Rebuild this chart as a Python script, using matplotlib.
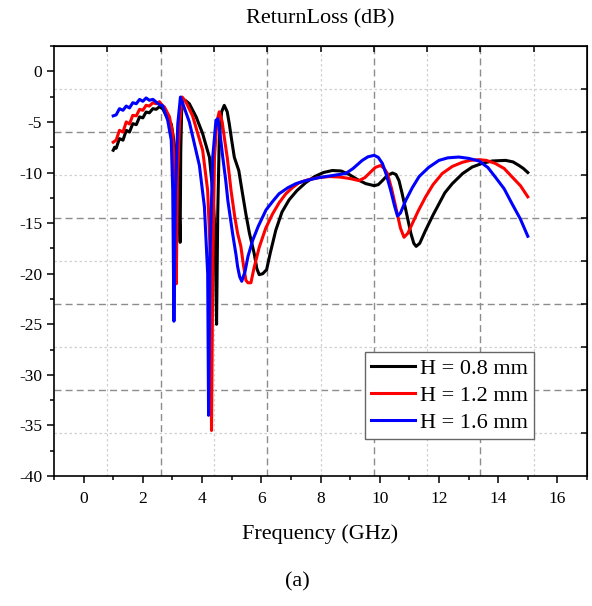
"""Return loss of the antenna for three substrate heights."""

import numpy as np
import matplotlib
matplotlib.use("Agg")
import matplotlib.pyplot as plt
from matplotlib.ticker import MultipleLocator

plt.rcParams["font.family"] = ["Liberation Serif", "DejaVu Serif"]
plt.rcParams["axes.unicode_minus"] = False

# H = 0.8 mm
f_08 = [1.0, 1.05, 1.1, 1.21, 1.33, 1.44, 1.55, 1.66, 1.78, 1.89, 2.0, 2.11, 2.22, 2.34,
        2.45, 2.56, 2.67, 2.79, 2.9, 2.96, 3.03, 3.12, 3.21, 3.26, 3.28, 3.31, 3.36, 3.45,
        3.57, 3.8, 4.02, 4.25, 4.36, 4.44, 4.49, 4.53, 4.58, 4.66, 4.75, 4.85, 4.92, 5.0,
        5.09, 5.24, 5.35, 5.48, 5.6, 5.76, 5.85, 5.93, 6.05, 6.18, 6.3, 6.49, 6.7, 6.94,
        7.2, 7.5, 7.8, 8.1, 8.4, 8.7, 8.97, 9.25, 9.53, 9.81, 9.95, 10.09, 10.25, 10.43,
        10.55, 10.65, 10.75, 10.88, 11.05, 11.15, 11.23, 11.35, 11.55, 11.8, 12.0, 12.2,
        12.45, 12.8, 13.12, 13.45, 13.8, 14.25, 14.5, 14.7, 14.85, 15.0]
s_08 = [-7.8, -7.5, -7.6, -6.65, -6.8, -5.83, -6.0, -5.17, -5.27, -4.5, -4.6, -4.02, -4.1,
        -3.69, -3.75, -3.5, -3.69, -4.4, -5.0, -5.2, -6.5, -8.5, -11.8, -16.9, -8.0, -4.0,
        -2.8, -2.9, -3.2, -4.5, -6.16, -8.5, -11.8, -16.0, -25.0, -14.0, -6.8, -4.0, -3.36,
        -4.0, -5.2, -6.8, -8.5, -9.8, -11.8, -14.1, -16.0, -18.0, -19.5, -20.1, -20.0,
        -19.6, -18.0, -15.7, -13.9, -12.7, -11.8, -11.0, -10.4, -10.0, -9.8, -9.85, -10.2,
        -10.7, -11.1, -11.3, -11.2, -10.8, -10.3, -10.05, -10.2, -10.8, -12.0, -13.7, -16.0,
        -17.0, -17.3, -17.0, -15.7, -14.2, -13.1, -12.0, -11.1, -10.1, -9.46, -9.1, -8.86,
        -8.8, -8.95, -9.3, -9.6, -10.0]

# H = 1.2 mm
f_12 = [1.0, 1.1, 1.21, 1.33, 1.44, 1.55, 1.66, 1.78, 1.89, 2.0, 2.11, 2.22, 2.34, 2.45,
        2.56, 2.67, 2.73, 2.9, 3.01, 3.1, 3.13, 3.17, 3.24, 3.33, 3.45, 3.68, 4.02, 4.19,
        4.28, 4.32, 4.36, 4.42, 4.5, 4.58, 4.68, 4.75, 4.85, 4.98, 5.1, 5.2, 5.31, 5.4,
        5.48, 5.55, 5.65, 5.75, 5.93, 6.15, 6.38, 6.6, 6.83, 7.05, 7.28, 7.6, 7.95, 8.3,
        8.63, 9.0, 9.3, 9.5, 9.64, 9.85, 10.03, 10.15, 10.26, 10.4, 10.54, 10.7, 10.82,
        10.95, 11.1, 11.3, 11.55, 11.8, 12.11, 12.45, 12.78, 13.05, 13.35, 13.6, 13.9,
        14.2, 14.47, 14.75, 15.0]
s_12 = [-7.0, -6.8, -5.83, -6.0, -5.0, -5.2, -4.35, -4.4, -3.75, -3.85, -3.36, -3.43, -3.1,
        -3.2, -3.0, -3.4, -3.52, -4.5, -6.16, -11.8, -21.0, -10.0, -5.2, -2.54, -3.0, -4.4,
        -7.8, -11.8, -18.3, -35.5, -20.0, -8.5, -5.0, -4.0, -5.0, -6.5, -8.5, -11.8, -14.3,
        -16.0, -17.3, -19.2, -20.65, -20.9, -20.9, -19.5, -17.4, -15.5, -14.1, -13.0, -12.1,
        -11.5, -11.0, -10.7, -10.5, -10.4, -10.44, -10.6, -10.8, -10.5, -10.1, -9.5, -9.3,
        -9.6, -10.1, -11.6, -13.4, -15.5, -16.4, -16.0, -15.05, -13.8, -12.4, -11.2, -10.1,
        -9.4, -9.0, -8.8, -8.73, -8.8, -9.1, -9.6, -10.44, -11.3, -12.4]

# H = 1.6 mm
f_16 = [1.0, 1.1, 1.21, 1.33, 1.44, 1.55, 1.66, 1.78, 1.89, 2.0, 2.11, 2.22, 2.34, 2.45,
        2.56, 2.67, 2.84, 2.96, 3.01, 3.05, 3.1, 3.18, 3.27, 3.57, 3.91, 4.08, 4.19, 4.22,
        4.27, 4.36, 4.47, 4.53, 4.6, 4.7, 4.8, 4.87, 5.03, 5.15, 5.2, 5.27, 5.34, 5.45,
        5.55, 5.71, 5.9, 6.16, 6.4, 6.6, 6.9, 7.17, 7.5, 7.95, 8.4, 8.85, 9.1, 9.41, 9.6,
        9.81, 9.95, 10.09, 10.22, 10.37, 10.5, 10.6, 10.7, 10.88, 11.1, 11.33, 11.65, 12.0,
        12.3, 12.67, 13.0, 13.35, 13.65, 13.9, 14.2, 14.47, 14.75, 15.0]
s_16 = [-4.4, -4.3, -3.69, -3.85, -3.43, -3.62, -3.1, -3.2, -2.77, -2.96, -2.63, -2.86,
        -2.77, -3.03, -3.3, -3.4, -4.84, -6.8, -11.8, -24.7, -12.0, -5.2, -2.54, -5.0, -9.3,
        -13.4, -20.0, -34.0, -18.0, -8.5, -4.84, -4.68, -6.0, -8.5, -10.8, -12.75, -16.0,
        -18.2, -19.3, -20.3, -20.75, -19.8, -18.3, -16.7, -15.3, -13.7, -12.8, -12.1, -11.5,
        -11.1, -10.8, -10.5, -10.3, -10.1, -9.6, -8.8, -8.45, -8.3, -8.5, -9.1, -10.2,
        -11.76, -13.3, -14.3, -14.0, -12.75, -11.5, -10.4, -9.5, -8.8, -8.55, -8.47, -8.6,
        -8.86, -9.5, -10.44, -11.6, -13.1, -14.6, -16.3]

series = [
    ("H = 0.8 mm", f_08, s_08, "black"),
    ("H = 1.2 mm", f_12, s_12, "#ff0000"),
    ("H = 1.6 mm", f_16, s_16, "#0000ff"),
]

XLIM = (-1, 17)
YLIM = (-40, 2.5)

fig = plt.figure(figsize=(5.92, 6.06), dpi=100)
ax = fig.add_axes([0.0912, 0.2145, 0.9004, 0.7095])

# grid: 10 equal divisions of each axis, dashed at even, dotted at odd
gx = np.linspace(XLIM[0], XLIM[1], 11)
gy = np.linspace(YLIM[0], YLIM[1], 11)
for i in range(1, 10):
    style = dict(color="#8c8c8c", lw=1.0, ls=(0, (5, 3))) if i % 2 == 0 else \
        dict(color="#d0d0d0", lw=0.9, ls=(0, (2, 2)))
    ax.axvline(gx[i], zorder=0, **style)
    ax.axhline(gy[i], zorder=0, **style)

for label, f, s, color in series:
    ax.plot(f, s, color=color, lw=2.2, label=label, solid_joinstyle="round")

ax.set_xlim(*XLIM)
ax.set_ylim(*YLIM)
ax.xaxis.set_major_locator(MultipleLocator(2))
ax.xaxis.set_minor_locator(MultipleLocator(1))
ax.yaxis.set_major_locator(MultipleLocator(5))
ax.yaxis.set_minor_locator(MultipleLocator(2.5))
ax.tick_params(which="major", direction="out", length=5, width=1.1, labelsize=12.5)
ax.tick_params(axis="x", which="major", pad=6)
ax.tick_params(which="minor", direction="out", length=3, width=1.1)
for sp in ax.spines.values():
    sp.set_linewidth(1.2)

top = ax.secondary_xaxis("top")
top.set_xticks(gx[1:-1])
top.set_xticklabels([])
top.tick_params(direction="in", length=4, width=1.1)
right = ax.secondary_yaxis("right")
right.set_yticks(gy[1:-1])
right.set_yticklabels([])
right.tick_params(direction="in", length=4, width=1.1)

leg = ax.legend(loc="upper left", bbox_to_anchor=(0.583, 0.288), fontsize=16,
                frameon=True, fancybox=False, edgecolor="#666666", framealpha=1,
                handlelength=2.0, handletextpad=0.2, labelspacing=0.28,
                borderpad=0.28, borderaxespad=0)
leg.get_frame().set_linewidth(1.0)

fig.text(320 / 592, 1 - 19 / 606, "ReturnLoss (dB)", ha="center", va="center", fontsize=16)
fig.text(320 / 592, 1 - 534 / 606, "Frequency (GHz)", ha="center", va="center", fontsize=16)
fig.text(297 / 592, 1 - 582 / 606, "(a)", ha="center", va="center", fontsize=16)

fig.savefig("out.png", dpi=100)
